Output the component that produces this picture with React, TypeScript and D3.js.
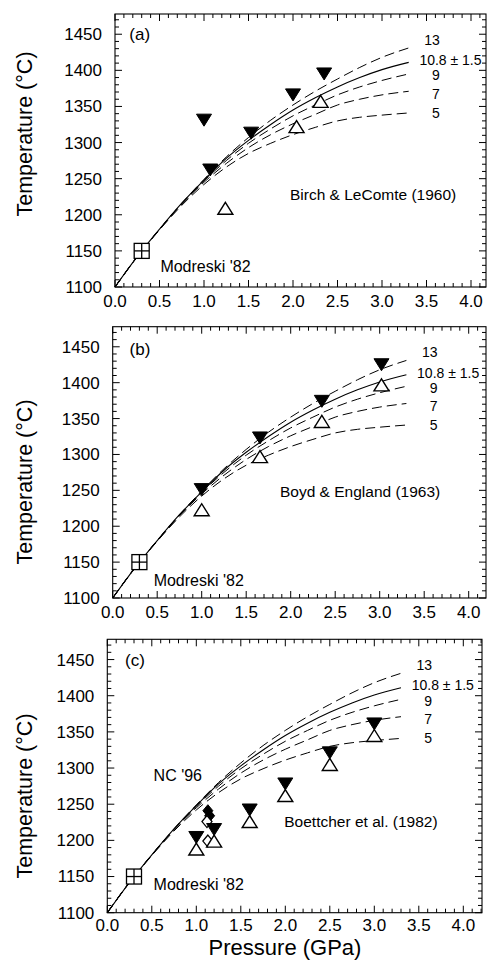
import React from 'react';
import * as d3 from 'd3';

// ---------- data ----------
const pressureGrid = [0, 0.25, 0.5, 0.75, 1.0, 1.25, 1.5, 1.75, 2.0, 2.25, 2.5, 2.75, 3.0, 3.3];
const curve13 = [1100, 1142, 1180, 1216, 1249, 1280, 1307, 1331, 1352, 1371, 1388, 1404, 1418, 1431];
const curve108 = [1100, 1142, 1180, 1216, 1248, 1278, 1303, 1325, 1345, 1362, 1377, 1390, 1401, 1411];
const curve9 = [1100, 1142, 1180, 1215, 1247, 1275, 1299, 1319, 1337, 1352, 1366, 1377, 1386, 1395];
const curve7 = [1100, 1142, 1180, 1215, 1245, 1271, 1293, 1311, 1326, 1339, 1352, 1360, 1366, 1371];
const curve5 = [1100, 1142, 1179, 1213, 1242, 1266, 1285, 1299, 1311, 1321, 1330, 1335, 1338, 1341];
const curveLabels = ['13', '10.8 ± 1.5', '9', '7', '5'];
const curveLabelT = [1442, 1414, 1393, 1367, 1341];

const modreskiP = [0.3];
const modreskiT = [1150];

const birchFilledP = [1.0, 1.07, 1.53, 2.0, 2.35];
const birchFilledT = [1331, 1262, 1313, 1366, 1395];
const birchOpenP = [1.24, 2.04, 2.31];
const birchOpenT = [1209, 1322, 1357];

const boydP = [1.0, 1.655, 2.35, 3.02];
const boydFilledT = [1251, 1323, 1374, 1425];
const boydOpenT = [1223, 1297, 1346, 1397];

const boettP = [1.0, 1.2, 1.6, 2.0, 2.5, 3.0];
const boettFilledT = [1204, 1215, 1242, 1278, 1321, 1361];
const boettOpenT = [1188, 1199, 1226, 1262, 1305, 1345];

const ncFilledP = [1.13, 1.15];
const ncFilledT = [1241, 1234];
const ncOpenP = [1.12, 1.13];
const ncOpenT = [1226, 1199];

const xMajorTicks = [0, 0.5, 1.0, 1.5, 2.0, 2.5, 3.0, 3.5, 4.0];
const yMajorTicks = [1100, 1150, 1200, 1250, 1300, 1350, 1400, 1450];

// ---------- layout ----------
const W = 490;
const H = 962;
const FONT = "'Liberation Sans', Arial, Helvetica, sans-serif";
const PX_PER_GPA = 89;
const T_MIN = 1100;
const T_MAX = 1478;

const panels = [
  { id: 'a', left: 115, right: 486, top: 14, bottom: 287, titleY: 134, xLabelDy: 20,
    tag: { p: 0.16, t: 1442 },
    source: { text: 'Birch & LeComte (1960)', p: 2.9, t: 1220 },
    modreski: { p: 0.51, t: 1121 } },
  { id: 'b', left: 112.7, right: 486, top: 326.7, bottom: 598, titleY: 482, xLabelDy: 20,
    tag: { p: 0.19, t: 1438 },
    source: { text: 'Boyd & England (1963)', p: 2.78, t: 1241 },
    modreski: { p: 0.46, t: 1117 } },
  { id: 'c', left: 107.3, right: 482, top: 639.3, bottom: 912.7, titleY: 796, xLabelDy: 18.5,
    tag: { p: 0.2, t: 1441 },
    source: { text: 'Boettcher et al. (1982)', p: 2.85, t: 1218.5 },
    modreski: { p: 0.52, t: 1131.5 } },
];

const TRI_W = 15;
const TRI_H = 12;

function triDown(cx: number, cy: number) {
  return `M${cx - TRI_W / 2},${cy - TRI_H / 2}L${cx + TRI_W / 2},${cy - TRI_H / 2}L${cx},${cy + TRI_H / 2}Z`;
}
function triUp(cx: number, cy: number) {
  return `M${cx - TRI_W / 2},${cy + TRI_H / 2}L${cx + TRI_W / 2},${cy + TRI_H / 2}L${cx},${cy - TRI_H / 2}Z`;
}
function diamond(cx: number, cy: number) {
  return `M${cx},${cy - 6}L${cx + 5},${cy}L${cx},${cy + 6}L${cx - 5},${cy}Z`;
}

const curves = [
  { vals: curve13, dash: '10,5' },
  { vals: curve9, dash: '10,5' },
  { vals: curve7, dash: '10,5' },
  { vals: curve5, dash: '10,5' },
  { vals: curve108, dash: null },
];

function Panel({ cfg }: { cfg: any }) {
  const x = d3.scaleLinear().domain([0, (cfg.right - cfg.left) / PX_PER_GPA]).range([cfg.left, cfg.right]);
  const y = d3.scaleLinear().domain([T_MIN, T_MAX]).range([cfg.bottom, cfg.top]);
  const xMax = x.domain()[1];

  const xMinor = d3.range(0, Math.floor(xMax * 10 + 1e-6) + 1).map((i) => i / 10);
  const yMinor = d3.range(T_MIN, T_MAX + 0.01, 10);
  const isMajorX = (v: number) => Math.abs(v * 2 - Math.round(v * 2)) < 1e-6;
  const isMajorY = (v: number) => v % 50 === 0;

  const line = d3
    .line<number>()
    .x((_, i) => x(pressureGrid[i]))
    .y((d) => y(d))
    .curve(d3.curveMonotoneX);

  const labelRightP = 3.65;
  const labelStartP = 3.42;

  const elems: any[] = [];

  elems.push(
    <rect key="frame" x={cfg.left} y={cfg.top} width={cfg.right - cfg.left} height={cfg.bottom - cfg.top}
      fill="none" stroke="#000" strokeWidth={1.1} />
  );

  xMinor.forEach((v) => {
    const len = isMajorX(v) ? 7 : 4;
    const px = x(v);
    elems.push(<line key={`xb${v}`} x1={px} x2={px} y1={cfg.bottom} y2={cfg.bottom - len} stroke="#000" strokeWidth={1} />);
    elems.push(<line key={`xt${v}`} x1={px} x2={px} y1={cfg.top} y2={cfg.top + len} stroke="#000" strokeWidth={1} />);
  });
  yMinor.forEach((v) => {
    const len = isMajorY(v) ? 7 : 4;
    const py = y(v);
    elems.push(<line key={`yl${v}`} x1={cfg.left} x2={cfg.left + len} y1={py} y2={py} stroke="#000" strokeWidth={1} />);
    elems.push(<line key={`yr${v}`} x1={cfg.right} x2={cfg.right - len} y1={py} y2={py} stroke="#000" strokeWidth={1} />);
  });

  xMajorTicks.forEach((v) => {
    elems.push(
      <text key={`xl${v}`} x={x(v)} y={cfg.bottom + cfg.xLabelDy} textAnchor="middle" fontSize={17} fontFamily={FONT}>
        {d3.format('.1f')(v)}
      </text>
    );
  });
  yMajorTicks.forEach((v) => {
    elems.push(
      <text key={`yl${v}t`} x={cfg.left - 13} y={y(v)} dy="0.35em" textAnchor="end" fontSize={17} fontFamily={FONT}>
        {v}
      </text>
    );
  });

  elems.push(
    <text key="ytitle" transform={`translate(32,${cfg.titleY}) rotate(-90)`} textAnchor="middle" fontSize={21.5} fontFamily={FONT}>
      Temperature (°C)
    </text>
  );

  curves.forEach((c, i) => {
    elems.push(
      <path key={`curve${i}`} d={line(c.vals) || ''} fill="none" stroke="#000" strokeWidth={c.dash ? 1 : 1.1}
        strokeDasharray={c.dash || undefined} />
    );
  });

  curveLabels.forEach((lab, i) => {
    const isMid = i === 1;
    elems.push(
      <text key={`cl${i}`} x={x(isMid ? labelStartP : labelRightP)} y={y(curveLabelT[i])} dy="0.35em"
        textAnchor={isMid ? 'start' : 'end'} fontSize={14} fontFamily={FONT}>
        {lab}
      </text>
    );
  });

  modreskiP.forEach((p, i) => {
    const cx = x(p);
    const cy = y(modreskiT[i]);
    const s = 15;
    elems.push(
      <g key={`mod${i}`} fill="none" stroke="#000" strokeWidth={1.3}>
        <rect x={cx - s / 2} y={cy - s / 2} width={s} height={s} fill="#fff" />
        <line x1={cx - s / 2} x2={cx + s / 2} y1={cy} y2={cy} />
        <line x1={cx} x2={cx} y1={cy - s / 2} y2={cy + s / 2} />
      </g>
    );
  });

  if (cfg.id === 'a') {
    birchFilledP.forEach((p, i) => {
      elems.push(<path key={`af${i}`} d={triDown(x(p), y(birchFilledT[i]))} fill="#000" stroke="#000" strokeWidth={1} />);
    });
    birchOpenP.forEach((p, i) => {
      elems.push(<path key={`ao${i}`} d={triUp(x(p), y(birchOpenT[i]))} fill="#fff" stroke="#000" strokeWidth={1.4} />);
    });
  } else if (cfg.id === 'b') {
    boydP.forEach((p, i) => {
      elems.push(<path key={`bf${i}`} d={triDown(x(p), y(boydFilledT[i]))} fill="#000" stroke="#000" strokeWidth={1} />);
    });
    boydP.forEach((p, i) => {
      elems.push(<path key={`bo${i}`} d={triUp(x(p), y(boydOpenT[i]))} fill="#fff" stroke="#000" strokeWidth={1.4} />);
    });
  } else {
    ncFilledP.forEach((p, i) => {
      elems.push(<path key={`nf${i}`} d={diamond(x(p), y(ncFilledT[i]))} fill="#000" stroke="#000" strokeWidth={1} />);
    });
    ncOpenP.forEach((p, i) => {
      elems.push(<path key={`no${i}`} d={diamond(x(p), y(ncOpenT[i]))} fill="#fff" stroke="#000" strokeWidth={1.3} />);
    });
    boettP.forEach((p, i) => {
      elems.push(<path key={`cf${i}`} d={triDown(x(p), y(boettFilledT[i]))} fill="#000" stroke="#000" strokeWidth={1} />);
      elems.push(<path key={`co${i}`} d={triUp(x(p), y(boettOpenT[i]))} fill="#fff" stroke="#000" strokeWidth={1.4} />);
    });
    elems.push(
      <text key="nc" x={x(0.52)} y={y(1282)} fontSize={16} fontFamily={FONT}>NC '96</text>
    );
  }

  elems.push(
    <text key="tag" x={x(cfg.tag.p)} y={y(cfg.tag.t)} fontSize={17} fontFamily={FONT}>({cfg.id})</text>
  );
  elems.push(
    <text key="src" x={x(cfg.source.p)} y={y(cfg.source.t)} textAnchor="middle" fontSize={15.5} fontFamily={FONT}>
      {cfg.source.text}
    </text>
  );
  elems.push(
    <text key="modl" x={x(cfg.modreski.p)} y={y(cfg.modreski.t)} fontSize={16} fontFamily={FONT}>Modreski '82</text>
  );

  return <g>{elems}</g>;
}

export default function App() {
  return (
    <svg width={W} height={H} style={{ position: 'absolute', left: 0, top: 0, background: '#fff' }}>
      <rect x={0} y={0} width={W} height={H} fill="#fff" />
      {panels.map((p) => (
        <Panel key={p.id} cfg={p} />
      ))}
      <text x={285} y={955} textAnchor="middle" fontSize={22} fontFamily={FONT}>
        Pressure (GPa)
      </text>
    </svg>
  );
}
